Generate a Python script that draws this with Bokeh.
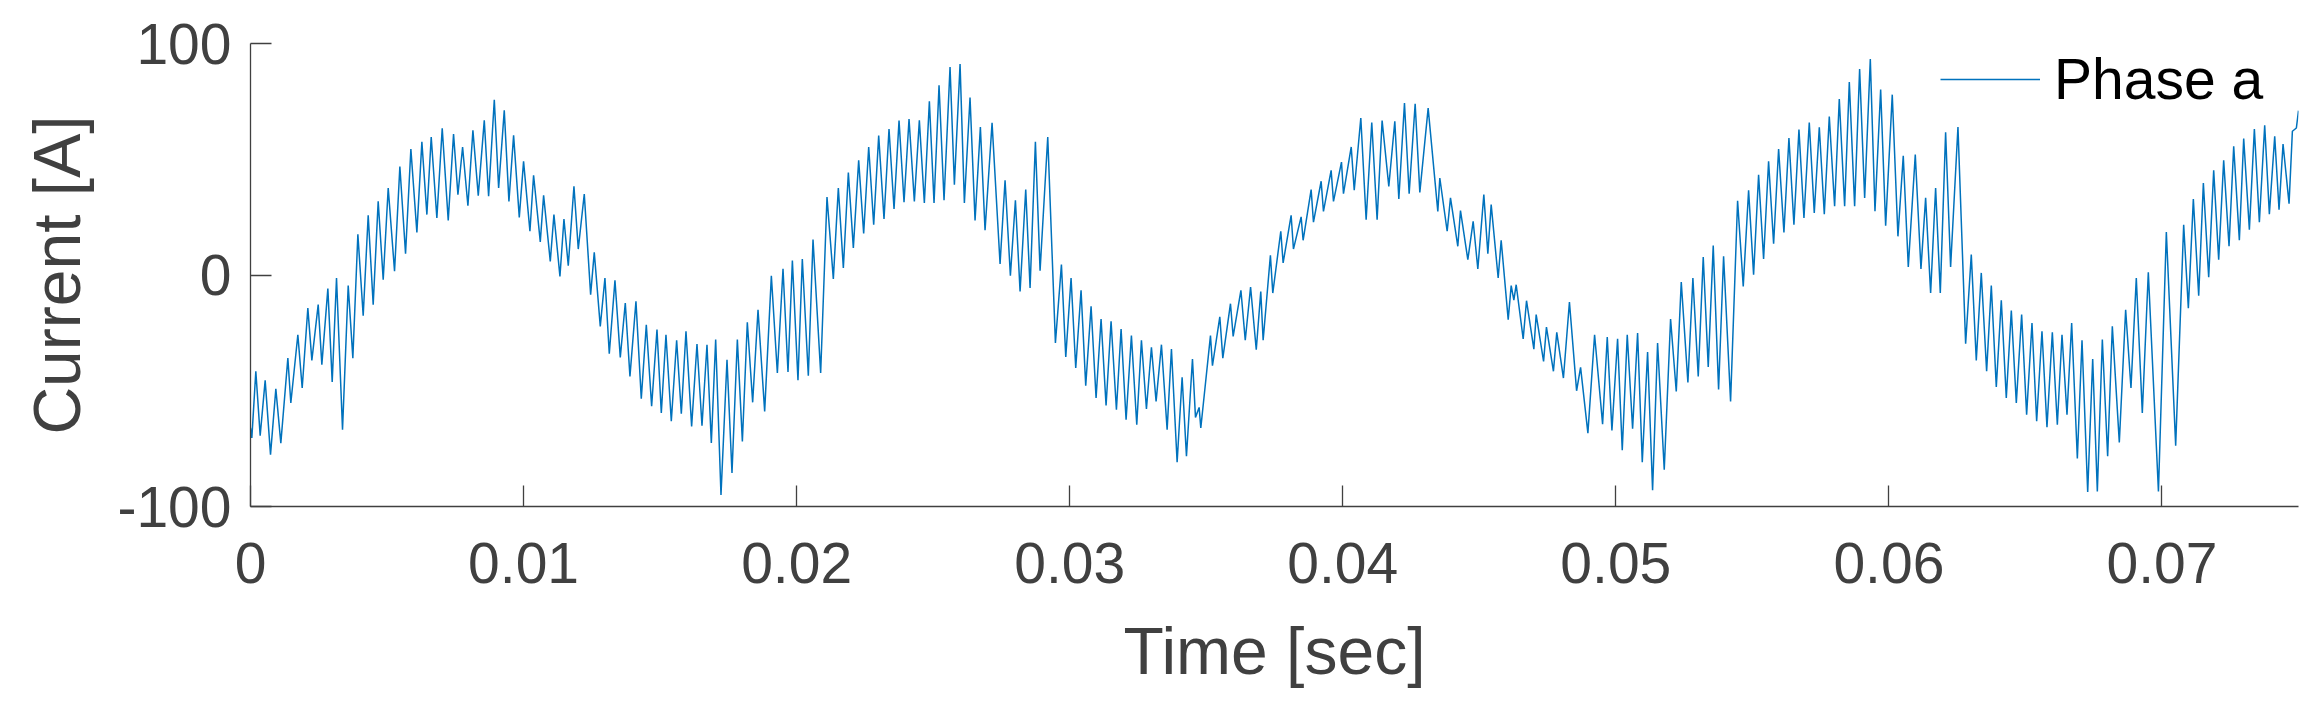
from bokeh.plotting import figure
from bokeh.models import FixedTicker, Legend, LegendItem
from bokeh.embed import file_html
from bokeh.resources import INLINE

# Time (ms) and current (A) of the waveform's successive extremes
t_ms = [
    0.000, 0.049, 0.195, 0.354, 0.537, 0.733, 0.928, 1.111, 1.368, 1.477, 1.734, 1.893, 2.100, 2.247,
    2.479, 2.613, 2.833, 2.992, 3.150, 3.370, 3.578, 3.748, 3.932, 4.127, 4.310, 4.493, 4.676, 4.860,
    5.043, 5.275, 5.470, 5.678, 5.873, 6.093, 6.276, 6.459, 6.618, 6.825, 7.021, 7.241, 7.436,
    7.596, 7.767, 7.962, 8.145, 8.341, 8.561, 8.720, 8.928, 9.087, 9.293, 9.464, 9.635, 9.843, 10.000,
    10.233, 10.367, 10.612, 10.734, 10.978, 11.112, 11.332, 11.479, 11.637, 11.845, 12.003, 12.223,
    12.456, 12.589, 12.809, 12.980, 13.139, 13.347, 13.542, 13.725, 13.896, 14.116, 14.311, 14.495,
    14.690, 14.886,
    15.044, 15.215, 15.410, 15.606, 15.777, 15.948, 16.155, 16.351, 16.534, 16.717, 16.876, 17.035,
    17.230, 17.450, 17.633, 17.829, 18.013, 18.194, 18.390, 18.586, 18.829, 19.074, 19.294, 19.501,
    19.684, 19.844, 20.049, 20.208, 20.428, 20.600, 20.880, 21.112, 21.344, 21.527, 21.711, 21.894,
    22.077, 22.272, 22.455,
    22.639, 22.822, 23.005, 23.200, 23.383, 23.567, 23.750, 23.933, 24.116, 24.311, 24.494, 24.677,
    24.861, 25.032, 25.215, 25.398, 25.618, 25.777, 25.985, 26.143, 26.350, 26.534, 26.729, 26.900,
    27.157, 27.450, 27.633, 27.828, 28.012, 28.183, 28.390, 28.549, 28.744, 28.915, 29.196, 29.477,
    29.697, 29.856,
    30.050, 30.221, 30.416, 30.587, 30.783, 30.966, 31.149, 31.332, 31.515, 31.711, 31.882, 32.065,
    32.260, 32.456, 32.627, 32.810, 32.993, 33.164, 33.360, 33.568, 33.726, 33.934, 34.117, 34.276,
    34.496, 34.606, 34.740, 34.801, 35.155, 35.228, 35.497, 35.607, 35.888, 35.986, 36.270, 36.429,
    36.624, 36.832, 36.997, 37.084, 37.350, 37.437,
    37.730, 37.816, 38.109, 38.194, 38.475, 38.548, 38.842, 38.927, 39.208, 39.293, 39.574, 39.660,
    39.953, 40.026, 40.310, 40.420, 40.661, 40.856, 41.062, 41.258, 41.441, 41.686, 41.906, 42.053,
    42.260, 42.431, 42.651, 42.822, 43.127, 43.481, 43.554, 43.823, 43.945, 44.213, 44.311, 44.580,
    44.775, 44.946,
    45.166, 45.313, 45.435, 45.691, 45.801, 46.058, 46.168, 46.265, 46.351, 46.607, 46.729, 46.998,
    47.083, 47.354, 47.459, 47.715, 47.837, 48.081, 48.301, 48.563, 48.709, 48.977, 49.222, 49.515,
    49.686, 49.857, 50.064, 50.235, 50.418, 50.614, 50.797, 50.968, 51.163, 51.346, 51.529, 51.773,
    52.005, 52.213, 52.396,
    52.639, 52.822, 53.018, 53.201, 53.384, 53.567, 53.763, 53.946, 54.202, 54.459, 54.666, 54.862,
    55.045, 55.228, 55.411, 55.594, 55.778, 55.961, 56.156, 56.339, 56.522, 56.706, 56.889, 57.084,
    57.267, 57.451, 57.634, 57.817, 58.012, 58.183, 58.379, 58.550, 58.745, 58.928, 59.112, 59.319,
    59.490, 59.698, 59.881,
    60.123, 60.331, 60.526, 60.710, 60.966, 61.174, 61.345, 61.528, 61.711, 61.882, 62.077, 62.260,
    62.529, 62.810, 63.017, 63.200, 63.383, 63.579, 63.750, 63.933, 64.116, 64.299, 64.483, 64.666,
    64.861, 65.044, 65.240, 65.411, 65.606, 65.789, 65.985, 66.168, 66.339, 66.522, 66.693, 66.901,
    67.072, 67.280, 67.463,
    67.633, 67.816, 68.011, 68.182, 68.438, 68.670, 68.865, 69.060, 69.280, 69.500, 69.871, 70.160,
    70.502, 70.795, 70.966, 71.149, 71.345, 71.516, 71.711, 71.894, 72.077, 72.260, 72.456, 72.627,
    72.834, 72.993, 73.201, 73.384, 73.567, 73.762, 73.933, 74.129, 74.287, 74.434, 74.654, 74.776,
    74.922, 75.000,
]

current_a = [
    -66.0, -70.4, -41.6, -69.4, -45.5, -77.6, -49.2, -72.6, -35.9, -55.3, -25.8, -48.8, -14.3, -36.9,
    -12.8, -38.7, -5.9, -46.2, -1.3, -66.8, -4.6, -35.9, 17.6, -17.6, 25.8, -12.8, 31.8, -2.0,
    37.6, 1.6, 46.9, 9.2, 54.4, 18.4, 57.5, 26.1, 59.6, 24.6, 63.4, 23.6, 60.9,
    34.7, 55.3, 29.9, 62.5, 34.3, 66.8, 34.0, 75.7, 37.6, 71.1, 31.8, 60.3, 24.9, 49.1,
    18.9, 43.1, 14.3, 34.4, 5.9, 26.1, -0.6, 24.2, 4.0, 38.3, 11.2, 35.0,
    -8.5, 9.8, -22.2, -1.3, -34.0, -2.3, -35.6, -12.1, -43.8, -11.4, -53.4, -21.5,
    -56.7, -23.6,
    -59.6, -25.8, -63.2, -28.2, -59.9, -24.3, -65.4, -29.8, -65.1, -30.1, -72.6, -27.9,
    -95.0, -36.6, -85.5, -27.9, -71.9, -20.4, -55.0, -15.0, -58.9, -0.3, -42.3, 2.7,
    -41.9, 6.2, -45.5, 6.9, -43.5, 15.3, -42.3, 33.7, -1.7, 37.6, 3.0, 44.3,
    11.7, 49.5, 17.9,
    55.3, 21.7, 60.2, 24.2, 63.1, 28.5, 66.7, 31.4, 67.4, 31.8, 66.8, 31.1,
    75.0, 31.1, 81.9, 32.3, 89.8, 39.0, 91.1, 31.1, 76.7, 23.6, 63.9, 19.3,
    65.7, 4.8, 40.9, -0.3, 32.3, -7.1, 36.9, -5.6, 57.5, 1.9, 59.6, -29.4,
    4.5, -35.4,
    -1.3, -40.2, -6.6, -47.8, -13.5, -53.1, -19.0, -56.4, -20.0, -58.2, -23.3, -62.5,
    -26.2, -64.7, -28.2, -57.9, -31.2, -54.6, -30.1, -66.8, -32.0, -80.9, -44.2, -78.3,
    -36.3, -61.5, -57.2, -66.1, -26.2, -39.2, -18.1, -35.9, -12.4, -26.5, -6.6, -28.2,
    -5.2, -32.3, -7.1, -28.2, 8.5, -7.8,
    18.9, 5.2, 25.8, 11.2, 25.1, 15.0, 36.9, 22.8, 40.5, 27.5, 45.2, 31.8,
    48.8, 35.1, 55.3, 36.6, 67.8, 23.9, 65.9, 23.9, 66.7, 38.3, 66.4, 32.8,
    74.3, 35.1, 74.0, 35.7, 72.1, 27.5, 41.9, 18.9, 33.3, 12.4, 27.8, 6.6,
    23.2, 2.6,
    34.7, 9.2, 30.4, -1.3, 15.0, -19.3, -4.6, -10.9, -4.2, -27.6, -11.1, -32.0,
    -17.1, -37.3, -22.5, -41.6, -24.8, -44.5, -11.7, -50.0, -39.9, -68.3, -25.8, -64.4,
    -26.8, -67.2, -27.6, -75.7, -25.8, -66.4, -25.1, -80.9, -33.3, -93.0, -29.4, -84.1,
    -19.0, -50.3, -3.0,
    -46.4, -1.3, -43.8, 7.8, -39.7, 12.7, -49.5, 8.1, -54.6, 32.1, -4.9, 36.6,
    0.1, 43.3, 6.9, 49.1, 13.5, 54.4, 18.4, 59.2, 21.7, 62.8, 24.6, 65.9,
    26.8, 63.8, 26.3, 68.5, 29.7, 76.0, 29.7, 83.4, 29.7, 89.0, 33.3, 93.3,
    27.5, 80.1, 21.3,
    77.9, 16.7, 51.5, 3.5, 52.0, 2.6, 33.3, -7.8, 37.6, -7.8, 61.6, 3.5,
    63.9, -29.7, 8.8, -36.9, 0.9, -41.6, -4.6, -48.4, -10.9, -53.1, -15.4, -55.3,
    -17.1, -60.3, -20.7, -63.2, -24.3, -65.8, -24.8, -64.7, -25.8, -60.3, -20.7, -79.3,
    -28.2, -93.7, -36.3,
    -93.5, -27.9, -78.3, -22.2, -72.3, -15.0, -48.8, -1.3, -59.6, 1.2, -93.5, 18.6,
    -73.7, 21.7, -14.3, 32.8, -8.9, 39.7, -1.0, 45.2, 6.6, 49.5, 12.4, 55.6,
    15.0, 58.9, 19.6, 63.1, 22.8, 64.7, 26.3, 59.9, 28.2, 56.6, 30.8, 62.1,
    63.5, 71.0,
]

x_ticks = [0, 0.01, 0.02, 0.03, 0.04, 0.05, 0.06, 0.07]
x_tick_labels = ["0", "0.01", "0.02", "0.03", "0.04", "0.05", "0.06", "0.07"]
y_ticks = [-100, 0, 100]
y_tick_labels = ["-100", "0", "100"]
series_name = "Phase a"

t_sec = [v / 1000.0 for v in t_ms]

FONT = "Liberation Sans"
AX = "#404040"

p = figure(width=2304, height=701, output_backend="svg", toolbar_location=None,
           x_range=(0, 0.075), y_range=(-100, 100),
           min_border_left=250, min_border_right=6, min_border_top=43, min_border_bottom=195)
p.outline_line_color = None
p.xgrid.visible = False
p.ygrid.visible = False
p.background_fill_color = "white"
p.border_fill_color = "white"

r = p.line(t_sec, current_a, line_color="#0072BD", line_width=1.5)

for ax in (p.xaxis[0], p.yaxis[0]):
    ax.axis_line_color = AX
    ax.axis_line_width = 1.3
    ax.major_tick_line_color = AX
    ax.major_tick_line_width = 1.3
    ax.major_tick_in = 21
    ax.major_tick_out = 0
    ax.minor_tick_line_color = None
    ax.major_label_text_font = FONT
    ax.major_label_text_font_size = "57px"
    ax.major_label_text_color = AX
    ax.axis_label_text_font = FONT
    ax.axis_label_text_font_size = "66px"
    ax.axis_label_text_font_style = "normal"
    ax.axis_label_text_color = AX

p.xaxis.ticker = FixedTicker(ticks=x_ticks)
p.xaxis.major_label_overrides = {k: v for k, v in zip(x_ticks, x_tick_labels)}
p.yaxis.ticker = FixedTicker(ticks=y_ticks)
p.yaxis.major_label_overrides = {k: v for k, v in zip(y_ticks, y_tick_labels)}
p.xaxis.axis_label = "Time [sec]"
p.yaxis.axis_label = "Current [A]"
p.xaxis.major_label_standoff = 36
p.yaxis.major_label_standoff = 19
p.xaxis.axis_label_standoff = 28
p.yaxis.axis_label_standoff = 20

legend = Legend(items=[LegendItem(label=series_name, renderers=[r])],
                location=(1690, 394), border_line_alpha=0, background_fill_alpha=0,
                label_text_font=FONT, label_text_font_size="57px", label_text_color="black",
                glyph_width=100, glyph_height=30, label_standoff=14,
                margin=0, padding=0, label_height=62)
p.add_layout(legend)

open("out.html", "w").write(file_html(p, INLINE))
